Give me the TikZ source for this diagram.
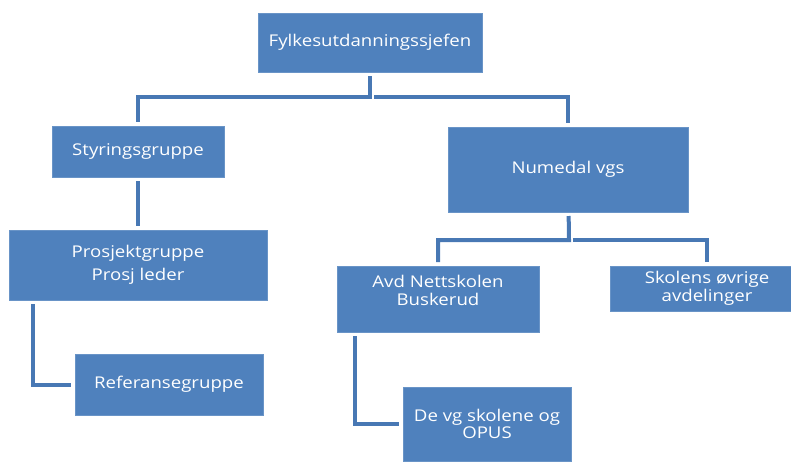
\documentclass[tikz,border=0pt]{standalone}
\usepackage{fontspec}
\setmainfont{Open Sans}[FakeStretch=1.15]
\usetikzlibrary{positioning}
\definecolor{boxblue}{HTML}{4F81BD}
\definecolor{lineblue}{HTML}{4878B4}

\begin{document}
\begin{tikzpicture}[
		x=1pt, y=-1pt,
		% Styles
		orgbox/.style={fill=boxblue, draw=boxblue!85!white, line width=0.8pt,
				inner sep=0pt, outer sep=0pt, align=center, text=white,
				font=\fontsize{16.2}{17.5}\selectfont},
		conn/.style={draw=lineblue, line width=4pt, shorten <=4pt, shorten >=4pt}
	]
	\useasboundingbox (0,0) rectangle (791,461);

	% --- 1. BOKSENE ---
	\node[orgbox, minimum width=224pt, minimum height=59pt] (sjef) at (370,42.5) {Fylkesutdanningssjefen};
	\node[orgbox, minimum width=172pt, minimum height=51pt] (styring) at (138,151.5) {Styringsgruppe};
	\node[orgbox, minimum width=240pt, minimum height=85pt] (numedal) at (568,169.5) {Numedal vgs};
	\node[orgbox, minimum width=258pt, minimum height=70pt] (prosjekt) at (138,265) {Prosjektgruppe\\[5pt]Prosj leder};
	\node[orgbox, minimum width=188pt, minimum height=61pt] (referanse) at (169,384.5) {Referansegruppe};
	\node[orgbox, minimum width=202pt, minimum height=66pt] (nettskolen) at (438,299) {Avd Nettskolen\\Buskerud\\~};
	\node[orgbox, minimum width=194pt, minimum height=45pt] (ovrige) at (707,288.5) {Skolens øvrige\\avdelinger};
	\node[orgbox, minimum width=168pt, minimum height=74pt] (opus) at (487,424) {De vg skolene og\\OPUS};

	% --- 2. KNEKKPUNKTER ---
	\coordinate (bar1) at (370,97);
	\coordinate (bar2) at (569,240);

	% --- 3. LINJER ---
	\draw[conn] (sjef) -- (bar1) -| (styring);
	\draw[conn] (bar1) -| (numedal);
	\draw[conn] (styring) -- (prosjekt);
	\draw[conn] (numedal) -- (bar2) -| (nettskolen);
	\draw[conn] (bar2) -| (ovrige);
	\draw[conn] ([xshift=24pt]prosjekt.south west) |- (referanse);
	\draw[conn] ([xshift=18pt]nettskolen.south west) |- (opus);

\end{tikzpicture}
\end{document}
